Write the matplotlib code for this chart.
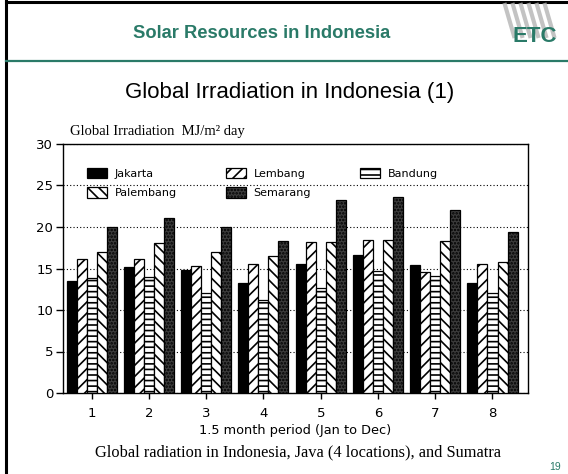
import numpy as np
import matplotlib
matplotlib.use("Agg")
import matplotlib.pyplot as plt
from matplotlib.lines import Line2D

# --- data ---
periods = ['1', '2', '3', '4', '5', '6', '7', '8']
stations = ['Jakarta', 'Lembang', 'Bandung', 'Palembang', 'Semarang']
jakarta = [13.5, 15.2, 14.8, 13.3, 15.6, 16.6, 15.4, 13.3]
lembang = [16.2, 16.2, 15.3, 15.5, 18.2, 18.4, 14.6, 15.6]
bandung = [13.8, 14.0, 12.1, 11.2, 12.7, 14.7, 14.1, 12.1]
palembang = [17.0, 18.1, 17.0, 16.5, 18.2, 18.4, 18.3, 15.8]
semarang = [20.0, 21.1, 20.0, 18.3, 23.3, 23.6, 22.1, 19.4]
yticks = [0, 5, 10, 15, 20, 25, 30]

series = [jakarta, lembang, bandung, palembang, semarang]
styles = [
    dict(facecolor='black', hatch=None),
    dict(facecolor='white', hatch='///'),
    dict(facecolor='white', hatch='---'),
    dict(facecolor='white', hatch='\\\\\\'),
    dict(facecolor='#3c3c3c', hatch='.....'),
]

teal = '#2a7a68'
plt.rcParams['hatch.linewidth'] = 1.2

fig = plt.figure(figsize=(5.68, 4.74), dpi=100)
W, H = 568, 474

# slide frame and header
fig.add_artist(Line2D([6 / W, 6 / W], [0, 1], color='black', lw=2.2))
fig.add_artist(Line2D([6 / W, 1], [1 - 1.5 / H, 1 - 1.5 / H], color='black', lw=2.2))
fig.add_artist(Line2D([6 / W, 1], [1 - 61 / H, 1 - 61 / H], color=teal, lw=1.6))
fig.text(262 / W, 1 - 33 / H, 'Solar Resources in Indonesia', color=teal,
         fontsize=13.2, fontweight='bold', family='Liberation Sans',
         ha='center', va='center')
# ETC logo: grey stripes with teal letters
for k in range(6):
    x0 = (505 + k * 8) / W
    fig.add_artist(Line2D([x0, x0 + 9 / W], [1 - 5 / H, 1 - 36 / H],
                          color='#b5b5b5', lw=3.0, alpha=0.8))
fig.text(535 / W, 1 - 37 / H, 'ETC', color=teal, fontsize=16,
         fontweight='bold', family='Liberation Sans', ha='center', va='center')

fig.text(290 / W, 1 - 93 / H, 'Global Irradiation in Indonesia (1)',
         fontsize=16, family='Liberation Sans', ha='center', va='center')

# chart
ax = fig.add_axes([63 / W, 1 - 393 / H, 465 / W, 249 / H])
x = np.arange(1, len(periods) + 1)
bw = 0.175
bars = []
for i, (vals, st) in enumerate(zip(series, styles)):
    b = ax.bar(x + (i - 2) * bw, vals, width=bw, facecolor=st['facecolor'],
               hatch=st['hatch'], edgecolor='black', linewidth=0.9,
               label=stations[i], zorder=3)
    bars.append(b)

ax.set_xlim(0.5, 8.62)
ax.set_ylim(0, 30)
ax.set_yticks(yticks)
ax.set_xticks(x)
ax.set_xticklabels(periods)
ax.tick_params(axis='y', direction='out', length=5, width=1, labelsize=9.5, pad=2)
ax.tick_params(axis='x', direction='inout', length=8, width=1, labelsize=9.5, pad=6)
for lab in ax.get_xticklabels() + ax.get_yticklabels():
    lab.set_family('DejaVu Sans')
for s in ax.spines.values():
    s.set_linewidth(1.0)
ax.yaxis.grid(True, linestyle=(0, (1, 2)), color='black', lw=0.8, zorder=0)
ax.set_axisbelow(True)

ax.set_xlabel('1.5 month period (Jan to Dec)', fontsize=9.3,
              family='DejaVu Sans', labelpad=3)
fig.text(70 / W, 1 - 132 / H, 'Global Irradiation  MJ/m² day',
         fontsize=10.5, family='Liberation Serif', ha='left', va='center')

# legend columns: (Jakarta, Palembang), (Lembang, Semarang), (Bandung)
order = [0, 3, 1, 4, 2]
leg = ax.legend([bars[i] for i in order], [stations[i] for i in order],
                ncol=3, loc='upper left', bbox_to_anchor=(0.03, 0.945),
                frameon=False, fontsize=8, handlelength=1.8, handleheight=1.1,
                columnspacing=4.4, labelspacing=0.75, handletextpad=0.7)
for t in leg.get_texts():
    t.set_family('DejaVu Sans')

fig.text(298 / W, 1 - 452 / H,
         'Global radiation in Indonesia, Java (4 locations), and Sumatra',
         fontsize=11.8, family='Liberation Serif', ha='center', va='center')
fig.text(555 / W, 1 - 467 / H, '19', color=teal, fontsize=7.5,
         family='Liberation Sans', ha='center', va='center')

fig.savefig('out.png', dpi=100)
